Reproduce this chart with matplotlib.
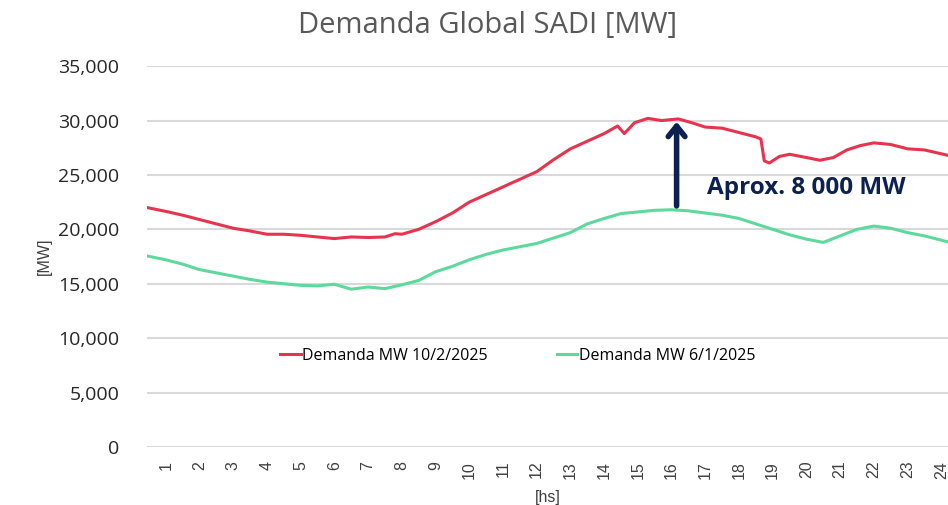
import matplotlib.pyplot as plt
from matplotlib.ticker import FuncFormatter

# Demanda SADI (hora, MW)
horas_feb = [0.45, 1.0, 1.5, 2.0, 2.5, 3.0, 3.5, 4.0, 4.5, 5.0, 5.5, 6.0, 6.5, 7.0, 7.5,
             7.8, 8.0, 8.5, 9.0, 9.5, 10.0, 10.5, 11.0, 11.5, 12.0, 12.5, 13.0, 13.5,
             14.0, 14.4, 14.6, 14.9, 15.3, 15.7, 16.2, 16.6, 17.0, 17.5, 18.0, 18.5,
             18.65, 18.75, 18.9, 19.2, 19.5, 20.0, 20.4, 20.8, 21.2, 21.6, 22.0, 22.5,
             23.0, 23.5, 24.2]
demanda_feb = [22000, 21650, 21300, 20900, 20500, 20100, 19850, 19550, 19550, 19450,
               19300, 19150, 19300, 19250, 19300, 19600, 19550, 20000, 20700, 21500,
               22500, 23200, 23900, 24600, 25300, 26400, 27400, 28100, 28800, 29500,
               28800, 29800, 30200, 30000, 30150, 29800, 29400, 29300, 28900, 28500,
               28300, 26300, 26100, 26700, 26900, 26600, 26350, 26600, 27300, 27700,
               27950, 27800, 27400, 27300, 26800]

horas_ene = [0.45, 1.0, 1.5, 2.0, 2.5, 3.0, 3.5, 4.0, 4.5, 5.0, 5.5, 6.0, 6.5, 7.0, 7.5,
             8.0, 8.5, 9.0, 9.5, 10.0, 10.5, 11.0, 11.5, 12.0, 12.5, 13.0, 13.5, 14.0,
             14.5, 15.0, 15.5, 16.0, 16.5, 17.0, 17.5, 18.0, 18.5, 19.0, 19.5, 20.0,
             20.5, 21.0, 21.5, 22.0, 22.5, 23.0, 23.5, 24.2]
demanda_ene = [17550, 17200, 16800, 16300, 16000, 15700, 15400, 15150, 15000, 14850,
               14800, 14950, 14500, 14700, 14550, 14900, 15300, 16100, 16600, 17200,
               17700, 18100, 18400, 18700, 19200, 19700, 20500, 21000, 21450, 21600,
               21750, 21800, 21700, 21500, 21300, 21000, 20500, 20000, 19500, 19100,
               18800, 19400, 20000, 20300, 20100, 19700, 19400, 18850]

hora_ticks = list(range(1, 25))
y_ticks = list(range(0, 35001, 5000))

fig = plt.figure(figsize=(9.48, 5.05), dpi=100)
ax = fig.add_axes([0.155, 0.115, 0.845, 0.754])

ax.plot(horas_feb, demanda_feb, color="#e8334f", lw=2.2, label="Demanda MW 10/2/2025")
ax.plot(horas_ene, demanda_ene, color="#5ed99d", lw=2.2, label="Demanda MW 6/1/2025")

ax.set_xlim(0.44, 24.2)
ax.set_ylim(0, 35000)
ax.set_yticks(y_ticks)
ax.yaxis.set_major_formatter(FuncFormatter(lambda v, p: f"{int(v):,}"))
ax.set_xticks(hora_ticks)
ax.set_xticklabels([str(h) for h in hora_ticks], rotation=90,
                   fontsize=11.5, family="Liberation Sans", color="#404040")
for lab in ax.get_yticklabels():
    lab.set_fontsize(14)
    lab.set_family("Open Sans")
    lab.set_color("#262626")
ax.tick_params(length=0, pad=10)
ax.tick_params(axis="y", pad=20)
ax.grid(axis="y", color="#d9d9d9", lw=1.5)
ax.set_axisbelow(True)
for s in ax.spines.values():
    s.set_visible(False)

ax.set_title("Demanda Global SADI [MW]", fontsize=21, family="Open Sans",
             color="#595959", pad=24, x=0.425)
ax.set_xlabel("[hs]", fontsize=11.5, family="Liberation Sans", color="#404040", labelpad=8)
ax.set_ylabel("[MW]", fontsize=11.5, family="Liberation Sans", color="#404040", labelpad=4)

ax.legend(loc="center", bbox_to_anchor=(0.463, 0.24), ncol=2, frameon=False,
          handlelength=1.3, handletextpad=0.1, columnspacing=4.3,
          prop={"family": "Open Sans", "size": 11.5})

# flecha de diferencia
ax.annotate("", xy=(16.15, 30150), xytext=(16.15, 21900),
            arrowprops=dict(arrowstyle="->,head_length=0.75,head_width=0.6",
                            color="#0d2150", lw=4))
ax.text(17.05, 23800, "Aprox. 8 000 MW", fontsize=17.5, fontweight="bold",
        family="Open Sans", color="#0d2150", va="center")

fig.savefig("out.png", dpi=100)
